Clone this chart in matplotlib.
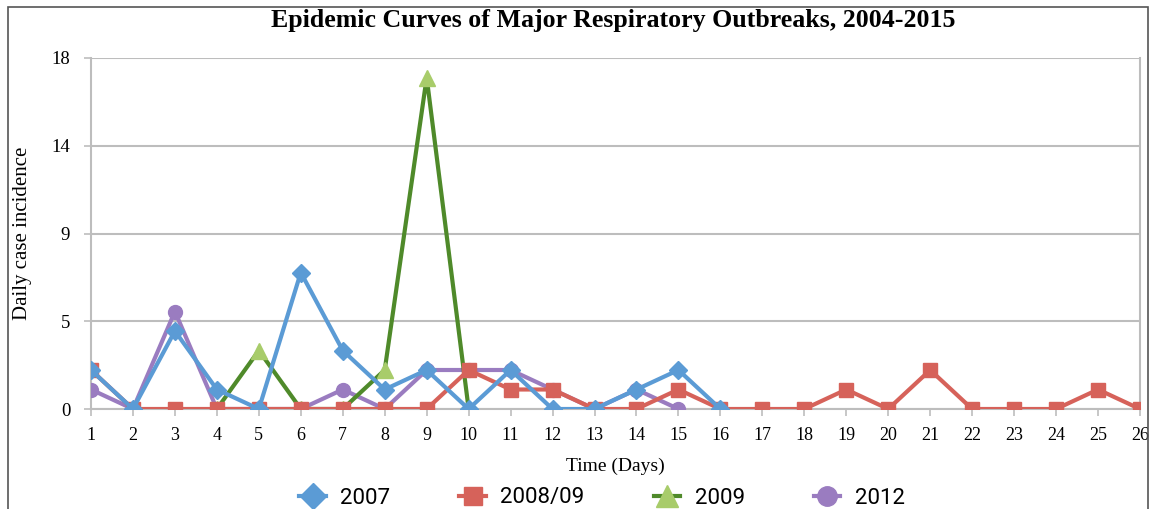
import matplotlib
matplotlib.use("Agg")
import matplotlib.pyplot as plt
from matplotlib.patches import Rectangle

days = list(range(1, 27))
days_2007 = list(range(1, 17))
vals_2007 = [2, 0, 4, 1, 0, 7, 3, 1, 2, 0, 2, 0, 0, 1, 2, 0]
days_2008 = list(range(1, 27))
vals_2008 = [2, 0, 0, 0, 0, 0, 0, 0, 0, 2, 1, 1, 0, 0, 1, 0, 0, 0, 1, 0, 2, 0, 0, 0, 1, 0]
days_2009 = list(range(4, 11))
vals_2009 = [0, 3, 0, 0, 2, 17, 0]
days_2012 = list(range(1, 16))
vals_2012 = [1, 0, 5, 0, 0, 0, 1, 0, 2, 2, 2, 1, 0, 1, 0]

ytick_vals = [0, 4.5, 9, 13.5, 18]
ytick_labels = ["0", "5", "9", "14", "18"]

plt.rcParams['font.family'] = ['Liberation Serif', 'DejaVu Serif']

fig = plt.figure(figsize=(11.53, 5.09), dpi=100)
ax = fig.add_axes([91/1153, 1 - 409/509, (1140 - 91)/1153, (409 - 58)/509])

blue = '#5B9BD5'
red = '#D6625A'
green_line = '#4F8A2A'
green_mk = '#A8CC6A'
purple = '#9A7CC0'

lw = 3
ax.plot(days_2012, vals_2012, color=purple, lw=lw, marker='o', ms=10, label='2012', zorder=3)
ax.plot(days_2009, vals_2009, color=green_line, lw=lw, marker='^', ms=11,
        mfc=green_mk, mec=green_mk, label='2009', zorder=4)
ax.plot(days_2008, vals_2008, color=red, lw=lw, marker='s', ms=9.5, label='2008/09', zorder=5)
ax.plot(days_2007, vals_2007, color=blue, lw=lw, marker='D', ms=9.5, label='2007', zorder=6)

ax.set_xlim(1, 26)
ax.set_ylim(0, 18)
ax.set_xticks(days)
ax.set_xticklabels([str(d) for d in days], fontsize=13)
ax.set_yticks(ytick_vals)
ax.set_yticklabels(ytick_labels, fontsize=13.5)
ax.yaxis.grid(True, color='#BDBDBD', lw=1.5)
ax.set_axisbelow(True)
ax.spines['top'].set_visible(False)
for s in ['left', 'bottom', 'right']:
    ax.spines[s].set_color('#BDBDBD')
    ax.spines[s].set_linewidth(1.5)
ax.tick_params(axis='both', colors='#BDBDBD', length=5, width=1.2, labelcolor='black')
ax.tick_params(axis='x', pad=8)
ax.tick_params(axis='y', pad=10)

ax.set_xlabel('Time (Days)', fontsize=14, labelpad=10)
ax.set_ylabel('Daily case incidence', fontsize=15, labelpad=14)
fig.text(613/1153, 1 - 21/509, 'Epidemic Curves of Major Respiratory Outbreaks, 2004-2015',
         ha='center', va='center', fontsize=18.6, fontweight='bold')

handles, labels = ax.get_legend_handles_labels()
order = [3, 2, 1, 0]
leg = fig.legend([handles[i] for i in order], [labels[i] for i in order],
                 loc='center', bbox_to_anchor=(602/1153, 1 - 498/509), ncol=4,
                 frameon=False, columnspacing=3.1, handlelength=1.2, handletextpad=0.65,
                 markerscale=1.4, prop={'family': 'Roboto', 'size': 16})

fig.patches.append(Rectangle((8/1153, -0.05), (1148 - 8)/1153, 1 - 7/509 + 0.05,
                             transform=fig.transFigure, fill=False, ec='#555555', lw=1.2))

fig.savefig('out.png', dpi=100)
